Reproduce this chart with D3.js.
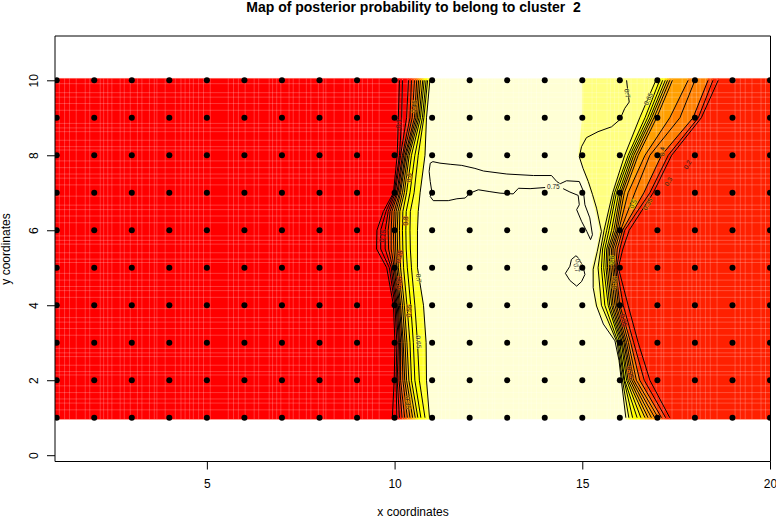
<!DOCTYPE html>
<html><head><meta charset="utf-8">
<script src="https://cdn.jsdelivr.net/npm/d3@7"></script>
<style>html,body{margin:0;padding:0;background:#fff}svg{display:block}text{font-family:"Liberation Sans",Arial,sans-serif;fill:#000;white-space:pre}</style>
</head><body><svg id="c" width="776" height="518"></svg>
<script>
const titleText = "Map of posterior probability to belong to cluster  2";
const xLabel = "x coordinates", yLabel = "y coordinates";
const xTicks = [5,10,15,20], yTicks = [0,2,4,6,8,10];
const gridX = d3.range(1,21), gridY = d3.range(1,11);

// Contour x positions per row (levels 0.1 .. 0.7, from the red side to the pale side)
const leftRows = [1,2,3,4,5,5.5,6,6.5,7,8,9,10];
const leftContours = [
 [9.94,10.06,10.13,10.20,10.27,10.34,10.41,10.48,10.55,10.62,10.70,10.81,10.93],
 [9.99,10.04,10.07,10.12,10.16,10.22,10.27,10.32,10.38,10.45,10.54,10.66,10.85],
 [10.01,10.06,10.10,10.13,10.16,10.20,10.23,10.28,10.33,10.41,10.50,10.61,10.84],
 [9.97,10.01,10.04,10.07,10.10,10.13,10.16,10.21,10.26,10.33,10.43,10.54,10.77],
 [9.79,9.86,9.91,9.95,9.99,10.02,10.06,10.10,10.16,10.24,10.34,10.45,10.61],
 [9.52,9.63,9.75,9.84,9.91,9.98,10.03,10.08,10.14,10.22,10.31,10.42,10.61],
 [9.53,9.63,9.75,9.83,9.91,9.97,10.02,10.07,10.13,10.21,10.30,10.41,10.61],
 [9.70,9.77,9.83,9.88,9.93,9.99,10.04,10.09,10.14,10.22,10.31,10.42,10.63],
 [9.97,9.99,10.02,10.06,10.09,10.13,10.16,10.21,10.26,10.32,10.41,10.52,10.68],
 [10.07,10.13,10.16,10.21,10.24,10.28,10.31,10.35,10.39,10.45,10.54,10.63,10.81],
 [10.10,10.19,10.32,10.41,10.47,10.53,10.57,10.61,10.65,10.69,10.74,10.78,10.85],
 [10.13,10.21,10.37,10.45,10.53,10.59,10.64,10.69,10.75,10.79,10.84,10.88,10.94]
];
const leftBandColors = ["#FF0000","#FF0000","#FF2000","#FF4000","#FF6000","#FF8000","#FF9F00","#FFBF00","#FFDF00","#FFFF00","#FFFF00","#FFFF2A","#FFFF80"];

// First column is the edge of the pale region; the others are contours 0.65 ... 0.05
const rightRows = [1,2,3,4,5,5.5,6,7,8,9,10];
const rightContours = [
 [16.16,16.24,16.34,16.46,16.56,16.67,16.75,16.84,16.93,17.02,17.11,17.22,17.33],
 [16.04,16.07,16.11,16.13,16.18,16.22,16.27,16.32,16.37,16.44,16.53,16.65,16.80],
 [15.89,15.93,15.96,16.00,16.04,16.07,16.11,16.14,16.18,16.23,16.29,16.37,16.49],
 [15.34,15.51,15.60,15.69,15.73,15.78,15.82,15.87,15.91,15.96,16.00,16.09,16.22],
 [15.25,15.42,15.51,15.57,15.63,15.67,15.72,15.76,15.81,15.85,15.89,15.92,15.96],
 [15.38,15.49,15.54,15.60,15.65,15.69,15.73,15.78,15.82,15.87,15.93,16.00,16.08],
 [15.47,15.58,15.65,15.71,15.78,15.84,15.89,15.93,15.97,16.02,16.07,16.13,16.25],
 [15.23,15.81,15.86,15.91,15.97,16.02,16.06,16.12,16.22,16.40,16.64,16.80,16.89],
 [14.90,16.13,16.22,16.27,16.32,16.37,16.43,16.49,16.67,16.80,17.11,17.29,17.38],
 [15.00,16.53,16.67,16.74,16.80,16.85,16.91,16.98,17.33,17.60,17.95,18.09,18.17],
 [15.00,16.96,17.06,17.14,17.21,17.27,17.33,17.40,17.82,18.00,18.35,18.48,18.62]
];
const rightBandColors = ["#FFFF80","#FFFF2A","#FFFF00","#FFFF00","#FFDF00","#FFBF00","#FF9F00","#FF9F00","#FF8000","#FF8000","#FF4000","#FF2000"];
const redColor = "#FF0000", rightRedColor = "#FF2000", paleColor = "#FFFFD5";

// Free-standing 0.7 / 0.75 contours
const contour70Right = [[16.18,10],[16.20,9.82],[16.25,9.42],[16.13,9.25],[16.00,8.95],[15.78,8.76],[15.42,8.63],[15.11,8.47],[14.98,8.23],[14.92,7.96],[15.02,7.65],[15.16,7.30],[15.27,6.96],[15.38,6.59],[15.51,5.97],[15.40,5.44],[15.29,4.96],[15.29,4.47],[15.38,3.98],[15.56,3.50],[15.87,3.05],[15.98,2.52],[16.04,1.99],[16.16,1]];
const contour75Loop = [[14.49,7.11],[14.67,7.02],[14.89,6.93],[14.92,6.68],[14.85,6.55],[14.98,6.24],[15.12,5.97],[15.22,5.75],[15.27,5.88],[15.20,6.33],[15.07,6.68],[15.03,7.04],[14.92,7.30],[14.58,7.32],[14.41,7.24],[14.32,7.30],[14.18,7.46],[13.70,7.46],[12.99,7.50],[12.37,7.58],[12.14,7.65],[11.79,7.73],[11.48,7.76],[11.21,7.79],[11.02,7.83],[10.95,7.79],[10.92,7.57],[10.95,7.30],[10.99,7.04],[10.95,6.90],[11.03,6.79],[11.43,6.79],[11.66,6.84],[11.88,6.86],[12.01,6.99],[12.23,7.08],[12.54,7.03],[12.81,6.99],[13.16,6.97],[13.30,7.12],[13.61,7.11],[14.01,7.14]];
const contourSmallLoop = [[14.83,5.32],[14.71,5.22],[14.67,5.04],[14.55,4.85],[14.67,4.66],[14.85,4.51],[14.98,4.63],[15.07,4.82],[15.02,5.04],[14.89,5.27],[14.83,5.32]];

// Contour labels
const labelText  = ["0.75","0.7","0.65","0.4","0.2","0.3","0.35","0.5","0.6","0.55","0.05","0.25","0.7","0.1","0.45","0.6","0.15","0.8","0.25","0.05","0.7","0.55","0.65","0.35","0.7"];
const labelX     = [14.23,16.2,16.76,17.13,17.8,17.29,16.74,16.35,15.78,15.86,16.1,16.28,14.85,10.1,10.52,10.38,9.68,10.3,10.12,10.12,10.64,10.38,10.64,10.36,14.9];
const labelY     = [7.15,9.65,9.5,8.1,7.75,7.3,6.7,6.7,5.2,4.6,3.6,2.2,5.0,8.85,9.3,7.4,5.85,6.25,5.3,4.6,4.72,3.85,3.02,1.4,5.12];
const labelAngle = [0,80,-65,-85,-60,-60,-60,-65,-85,-85,75,75,75,-90,-85,-85,-80,-90,-75,-85,85,-85,85,85,75];
const labelHalo  = ["#FFFFD5","#FFFF80","#FFFF80","#FF8000","#FF2000","#FF4000","#FF8000","#FFFF00","#FFFF00","#FF9F00","#FF2000","#FF6000","#FFFFD5","#FF0000","#FF9F00","#FF9F00","#FF0000","#FF8000","#FF4000","#FF4000","#FFFF80","#FF9F00","#FFFF80","#FF9F00","#FFFFD5"];

const seamOffsetsX = [0.24,0.38,0.51,0.69,0.93,1.05,1.33,1.42,1.53,1.64,1.86,1.97,2.13,2.32,2.44,2.64,2.77,2.84,3.06,3.33,3.48,3.59,3.71,3.81,3.95,4.08,4.26];
const seamOffsetsY = [0.22,0.46,0.58,0.75,0.93,1.28,1.40,1.50,1.73,1.90,1.99,2.28,2.46,2.63,2.74,2.92];
const seamPeriodX = 4.5, seamPeriodY = 3;

const svg = d3.select("#c");
const x = d3.scaleLinear().domain([1,20]).range([56.7,770]);
const y = d3.scaleLinear().domain([0,10]).range([455.2,80.3]);
const box = {l:55,r:771,t:36,b:462};

svg.append("clipPath").attr("id","plot").append("rect").attr("x",box.l).attr("y",box.t).attr("width",box.r-box.l).attr("height",box.b-box.t);
const g = svg.append("g").attr("clip-path","url(#plot)");

const imgY = r => r===1 ? y(0.96) : r===10 ? y(10.05) : y(r);
function band(rows, x0f, x1f, color){
  const area = d3.area().y(d=>imgY(d[0])).x0(d=>x(x0f(d[1]))).x1(d=>x(x1f(d[1])));
  g.append("path").attr("d",area(rows.map((r,i)=>[r,i]))).attr("fill",color).attr("stroke",color).attr("stroke-width",0.3);
}
g.append("rect").attr("x",x(1)-2).attr("width",x(20)-x(1)+4).attr("y",y(10.05)).attr("height",y(0.96)-y(10.05)).attr("fill",paleColor);
band(leftRows,()=>0.9,i=>leftContours[i][0],redColor);
leftBandColors.slice(0,12).forEach((c,k)=>band(leftRows,i=>leftContours[i][k],i=>leftContours[i][k+1],c));
band(rightRows,i=>rightContours[i][12],()=>20.1,rightRedColor);
rightBandColors.forEach((c,k)=>band(rightRows,i=>rightContours[i][k],i=>rightContours[i][k+1],c));

const seams = g.append("g").attr("stroke","#fff").attr("stroke-opacity",0.22).attr("stroke-width",1);
d3.range(0,5).forEach(p=>seamOffsetsX.forEach(o=>{
  const v = 0.83+p*seamPeriodX+o;
  seams.append("line").attr("x1",x(v)).attr("x2",x(v)).attr("y1",y(10.05)).attr("y2",y(0.96));
}));
d3.range(0,4).forEach(p=>seamOffsetsY.forEach(o=>{
  const v = 10.13-p*seamPeriodY-o;
  if(v>0.96) seams.append("line").attr("y1",y(v)).attr("y2",y(v)).attr("x1",x(1)-2).attr("x2",x(20)+2);
}));

const line = d3.line().x(d=>x(d[0])).y(d=>y(d[1]));
const cg = g.append("g").attr("fill","none").attr("stroke","#000").attr("stroke-width",1);
for(let k=0;k<13;k++) cg.append("path").attr("d",line(leftRows.map((r,i)=>[leftContours[i][k],r])));
for(let k=1;k<13;k++) cg.append("path").attr("d",line(rightRows.map((r,i)=>[rightContours[i][k],r])));
cg.append("path").attr("d",line(contour70Right));
cg.append("path").attr("d",line(contour75Loop));
cg.append("path").attr("d",line(contourSmallLoop));

labelText.forEach((t,i)=>{
  g.append("text").text(t).attr("font-size",6.5).attr("text-anchor","middle").attr("dy","0.35em")
   .attr("transform",`translate(${x(labelX[i])},${y(labelY[i])}) rotate(${labelAngle[i]})`)
   .attr("stroke",labelHalo[i]).attr("stroke-width",1.5).attr("stroke-opacity",0.6).attr("paint-order","stroke").style("fill","#222");
});

gridX.forEach(a=>gridY.forEach(b=>{
  g.append("circle").attr("cx",x(a)).attr("cy",y(b)).attr("r",3).attr("fill","#000");
}));

svg.append("path").attr("d",`M${box.l},${box.b-.5}V${box.t}H${box.r-.5}V${box.b-.5}H${box.l}Z`).attr("fill","none").attr("stroke","#000");
const xAxis = d3.axisBottom(x).tickValues(xTicks).tickSize(8).tickPadding(10).tickFormat(d3.format("d"));
const gx = svg.append("g").attr("transform",`translate(0,${box.b-.5})`).call(xAxis);
const yAxis = d3.axisLeft(y).tickValues(yTicks).tickSize(8).tickPadding(9).tickFormat(d3.format("d"));
const gy = svg.append("g").attr("transform",`translate(${box.l},0)`).call(yAxis);
[gx,gy].forEach(a=>{a.select(".domain").remove();a.selectAll("text").attr("font-size",12).attr("font-family",'"Liberation Sans"');});
gy.selectAll(".tick text").attr("transform",function(){return `rotate(-90 ${+this.getAttribute("x")} 0)`;}).attr("text-anchor","middle").attr("dy","0");

svg.append("text").text(titleText).attr("x",413.5).attr("y",11.5).attr("text-anchor","middle").attr("font-weight","bold").attr("font-size",14);
svg.append("text").text(xLabel).attr("x",413).attr("y",515.5).attr("text-anchor","middle").attr("font-size",12);
svg.append("text").text(yLabel).attr("transform","translate(9.5,249) rotate(-90)").attr("text-anchor","middle").attr("font-size",12);
</script></body></html>
